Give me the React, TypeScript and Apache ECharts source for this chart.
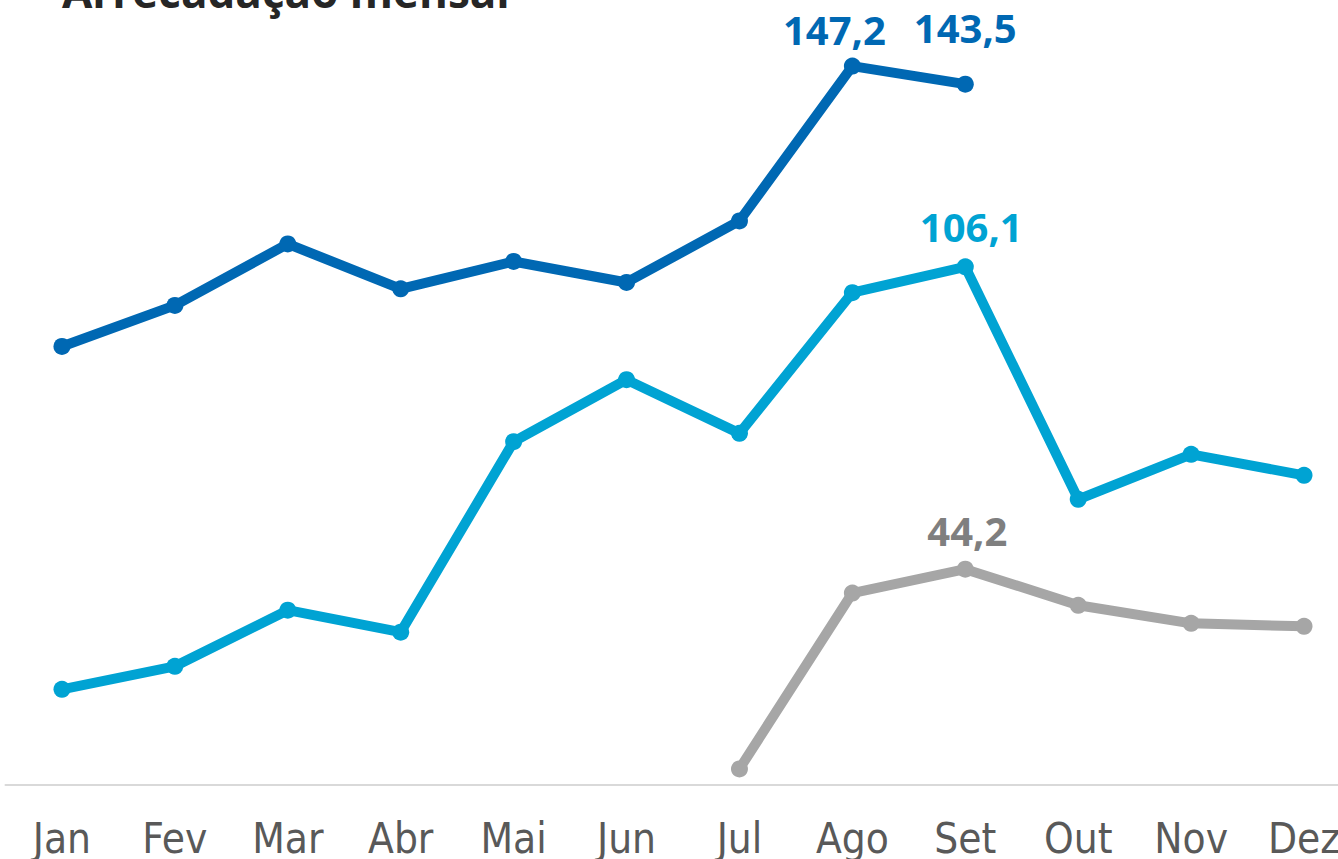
import React, { useEffect, useRef } from "react";
import * as echarts from "echarts";

const months = ["Jan", "Fev", "Mar", "Abr", "Mai", "Jun", "Jul", "Ago", "Set", "Out", "Nov", "Dez"];
const serieA = [89.8, 98.2, 110.8, 101.6, 107.2, 102.9, 115.5, 147.2, 143.5, null, null, null];
const serieB = [19.6, 24.3, 35.8, 31.3, 70.3, 83.0, 72.0, 100.8, 106.1, 58.5, 67.7, 63.4];
const serieC = [null, null, null, null, null, null, 3.3, 39.3, 44.2, 36.8, 33.1, 32.5];
const labeledA = [7, 8];
const labeledB = [8];
const labeledC = [8];
const titleText = "Arrecadação mensal";

const fmt = (v: number) => v.toFixed(1).replace(".", ",");

function build(values: (number | null)[], labeled: number[], color: string, offsets: Record<number, number[]>) {
  return values.map((v, i) => {
    if (v === null) return null;
    if (labeled.indexOf(i) >= 0) {
      return {
        value: v,
        label: {
          show: true,
          position: "top",
          distance: 14,
          offset: offsets[i] || [0, 0],
          formatter: (p: any) => fmt(p.value),
          color,
          fontFamily: "Open Sans",
          fontWeight: 700,
          fontSize: 40,
        },
      };
    }
    return v;
  });
}

export default function App() {
  const ref = useRef<HTMLDivElement>(null);
  useEffect(() => {
    document.body.style.margin = "0";
    const chart = echarts.init(ref.current!, null, { renderer: "svg" });
    const dark = "#0068B3";
    const light = "#00A3D3";
    const gray = "#A6A6A6";
    chart.setOption({
      animation: false,
      grid: { left: 5.5, width: 1355, top: 3.6, height: 782.4 },
      xAxis: {
        type: "category",
        data: months,
        boundaryGap: true,
        axisLine: { show: true, lineStyle: { color: "#D9D9D9", width: 2 } },
        axisTick: { show: false },
        axisLabel: {
          color: "#595959",
          fontFamily: "DejaVu Sans Condensed",
          fontWeight: 300,
          fontSize: 42,
          margin: 32,
        },
      },
      yAxis: {
        type: "value",
        min: 0,
        max: 160,
        show: false,
        splitLine: { show: false },
      },
      graphic: [
        {
          type: "text",
          x: 62,
          y: -9,
          style: {
            text: titleText,
            fill: "#262626",
            font: "bold 44px 'Open Sans'",
            verticalAlign: "middle",
            align: "left",
          },
        },
      ],
      series: [
        {
          type: "line",
          data: build(serieA, labeledA, dark, { 7: [-18, 6], 8: [0, -14] }),
          lineStyle: { color: dark, width: 10 },
          itemStyle: { color: dark },
          symbol: "circle",
          symbolSize: 17,
          connectNulls: false,
        },
        {
          type: "line",
          data: build(serieB, labeledB, light, { 8: [6, 2] }),
          lineStyle: { color: light, width: 10 },
          itemStyle: { color: light },
          symbol: "circle",
          symbolSize: 17,
        },
        {
          type: "line",
          data: build(serieC, labeledC, "#7F7F7F", { 8: [2, 4] }),
          lineStyle: { color: gray, width: 10 },
          itemStyle: { color: gray },
          symbol: "circle",
          symbolSize: 17,
        },
      ],
    });
    return () => chart.dispose();
  }, []);
  return (
    <div style={{ width: 1338, height: 859, overflow: "hidden", position: "relative" }}>
      <div ref={ref} style={{ width: 1361, height: 859 }} />
    </div>
  );
}
